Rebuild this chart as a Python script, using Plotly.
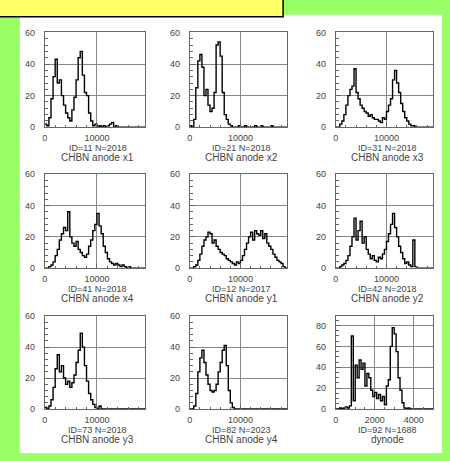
import plotly.graph_objects as go

W, H = 450, 461

# ---------------- data ----------------
anode_bin_width = 400          # 48 bins over 0..19200
anode_range = [0, 19200]
anode_ticks = [0, 10000]
anode_tick_text = ["0", "10000"]
anode_y_ticks = [0, 20, 40, 60]

x1 = [2,1,6,18,32,43,28,30,20,14,9,6,4,11,19,30,44,48,33,22,20,9,4,1,2,0,1,0,1,0,1,2,3,0,1,0,0,0,0,0,0,0,0,0,0,0,0,0]
x2 = [1,0,5,25,42,46,38,20,24,14,10,12,22,52,54,45,22,8,5,2,1,0,0,0,1,0,0,1,0,0,0,0,1,0,0,1,0,0,0,0,1,0,0,0,0,0,0,0]
x3 = [0,0,2,4,8,14,20,24,26,37,22,18,14,12,10,9,7,8,6,5,5,4,3,6,5,10,14,18,30,36,28,22,15,10,6,4,2,1,1,0,0,0,0,0,0,0,0,0]
x4 = [0,0,1,2,4,8,12,18,22,26,24,36,20,16,14,17,12,10,8,7,9,14,18,24,28,35,27,22,14,10,6,4,3,2,3,2,1,2,1,0,1,0,0,0,0,0,0,0]
y1 = [0,0,1,2,5,9,14,18,20,23,22,16,18,14,12,10,9,8,6,5,4,3,2,4,3,5,8,12,16,20,23,18,24,22,21,24,19,22,16,14,12,9,7,5,4,3,1,0]
y2 = [0,0,1,2,3,5,8,14,20,32,18,24,30,16,20,12,9,6,8,5,4,7,6,9,12,17,22,28,35,26,20,14,10,6,3,4,2,1,18,1,0,0,0,0,0,0,0,0]
y3 = [1,0,2,6,14,26,35,24,28,20,16,18,14,17,22,30,38,49,40,28,18,10,6,3,1,0,2,0,0,0,0,0,0,0,0,0,0,0,0,0,0,0,0,0,0,0,0,0]
y4 = [0,0,2,10,24,33,38,30,22,16,12,11,12,16,24,30,38,41,28,12,4,1,0,0,0,0,0,0,0,0,0,0,0,0,0,0,0,0,0,0,0,0,0,0,0,0,0,0]

dyn_bin_width = 100            # 50 bins over 0..5000
dyn_range = [0, 5000]
dyn_ticks = [0, 2000, 4000]
dyn_y_range = [0, 89]
dyn_y_ticks = [0, 20, 40, 60, 80]
dynode = [0,0,1,0,1,2,1,3,70,8,42,30,47,38,44,22,34,30,18,12,16,10,14,8,12,4,22,28,60,78,72,55,30,18,6,1,0,1,0,0,0,0,0,0,0,0,0,0,0,0]

id_labels = ["ID=11 N=2018", "ID=21 N=2018", "ID=31 N=2018",
             "ID=41 N=2018", "ID=12 N=2017", "ID=42 N=2018",
             "ID=73 N=2018", "ID=82 N=2023", "ID=92 N=1688"]
names = ["CHBN anode x1", "CHBN anode x2", "CHBN anode x3",
         "CHBN anode x4", "CHBN anode y1", "CHBN anode y2",
         "CHBN anode y3", "CHBN anode y4", "dynode"]

series = [x1, x2, x3, x4, y1, y2, y3, y4, dynode]

# ---------------- layout geometry (pixels) ----------------
cols = [(42, 143), (188, 286), (335, 433)]
rows = [(28, 125), (173, 269), (318, 413)]

def px_x(p):
    return p / W

def px_y(p):
    return 1 - p / H

fig = go.Figure()
layout = dict(
    width=W, height=H,
    margin=dict(l=0, r=0, t=0, b=0),
    paper_bgcolor="#99ff66",
    plot_bgcolor="white",
    showlegend=False,
    font=dict(family="Liberation Sans, Arial, sans-serif", size=9, color="#444"),
)

annotations = []
for k, vals in enumerate(series):
    r, c = divmod(k, 3)
    is_dyn = (k == 8)
    bw = dyn_bin_width if is_dyn else anode_bin_width
    edges = [i * bw for i in range(len(vals) + 1)]
    n = k + 1
    xa = "x" if n == 1 else f"x{n}"
    ya = "y" if n == 1 else f"y{n}"
    fig.add_trace(go.Scatter(
        x=edges, y=list(vals) + [vals[-1]],
        mode="lines", line=dict(color="black", width=1.4, shape="hv"),
        xaxis=xa, yaxis=ya, hoverinfo="skip"))

    x0, x1p = cols[c]
    y0, y1p = rows[r]
    axis_common = dict(
        showline=True, mirror=True, linecolor="#666", linewidth=1,
        showgrid=True, gridcolor="#888", gridwidth=1,
        zeroline=False, ticks="inside", ticklen=5, tickcolor="#666",
        tickfont=dict(size=9, color="#444"),
    )
    xkey = "xaxis" if n == 1 else f"xaxis{n}"
    ykey = "yaxis" if n == 1 else f"yaxis{n}"
    if is_dyn:
        layout[xkey] = dict(axis_common, domain=[px_x(x0), px_x(x1p)], anchor=ya,
                            range=dyn_range, tickvals=dyn_ticks,
                            ticktext=[str(t) for t in dyn_ticks],
                            minor=dict(ticks="inside", ticklen=2, dtick=500, tickcolor="#666", showgrid=False),
                            ticklabelstandoff=2)
        layout[ykey] = dict(axis_common, domain=[px_y(y1p), px_y(y0)], anchor=xa,
                            range=dyn_y_range, tickvals=dyn_y_ticks,
                            minor=dict(ticks="inside", ticklen=3, dtick=5, tickcolor="#666", showgrid=False),
                            ticklabelstandoff=7)
    else:
        layout[xkey] = dict(axis_common, domain=[px_x(x0), px_x(x1p)], anchor=ya,
                            range=anode_range, tickvals=anode_ticks,
                            ticktext=anode_tick_text,
                            minor=dict(ticks="inside", ticklen=2, dtick=2000, tickcolor="#666", showgrid=False),
                            ticklabelstandoff=2)
        layout[ykey] = dict(axis_common, domain=[px_y(y1p), px_y(y0)], anchor=xa,
                            range=[0, 60], tickvals=anode_y_ticks,
                            minor=dict(ticks="inside", ticklen=3, dtick=4, tickcolor="#666", showgrid=False),
                            ticklabelstandoff=7)

    cx = (x0 + x1p) / 2 + 3
    annotations.append(dict(x=px_x(cx), y=px_y(y1p + 21), xref="paper", yref="paper",
                            text=id_labels[k], showarrow=False,
                            font=dict(size=9, color="#444"), xanchor="center", yanchor="middle"))
    annotations.append(dict(x=px_x(cx), y=px_y(y1p + 31), xref="paper", yref="paper",
                            text=names[k], showarrow=False,
                            font=dict(size=10, color="#444"), xanchor="center", yanchor="middle"))

layout["annotations"] = annotations
layout["shapes"] = [
    dict(type="rect", xref="paper", yref="paper", layer="below",
         x0=px_x(17), x1=px_x(442), y0=px_y(458), y1=px_y(10),
         fillcolor="white", line=dict(width=0)),
    dict(type="rect", xref="paper", yref="paper", layer="above",
         x0=px_x(-20), x1=px_x(282), y0=px_y(12), y1=px_y(-20),
         fillcolor="#ffff66", line=dict(color="black", width=1.5)),
]

fig.update_layout(**layout)
fig.write_html("out.html")
